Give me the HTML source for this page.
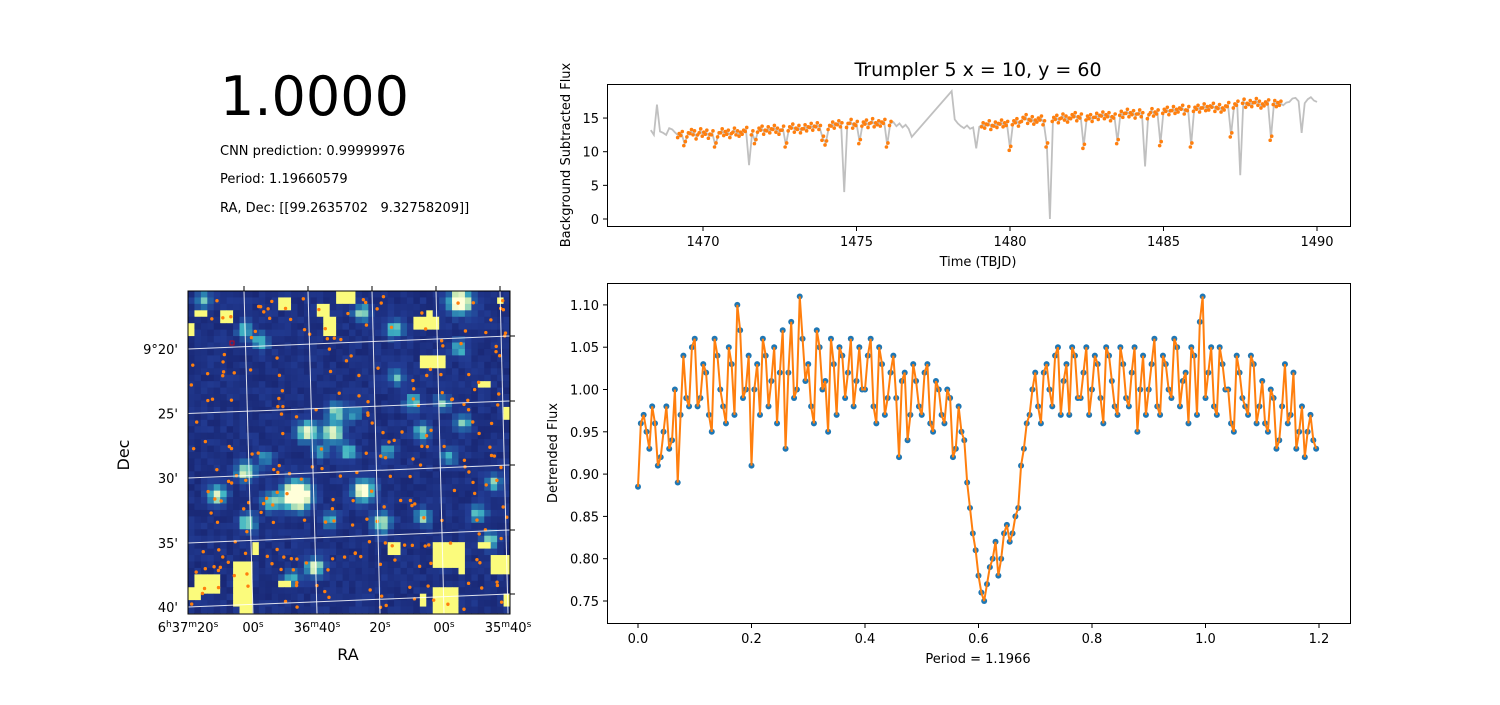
<!DOCTYPE html>
<html><head><meta charset="utf-8"><style>
body{margin:0;background:#fff}
svg text{font-family:"DejaVu Sans","Liberation Sans",sans-serif;fill:#000;white-space:pre}
</style></head><body>
<svg id="s" width="1500" height="700" xmlns="http://www.w3.org/2000/svg">
<text x="220" y="115" font-size="54">1.0000</text>
<text x="220" y="155" font-size="13">CNN prediction: 0.99999976</text>
<text x="220" y="183" font-size="13">Period: 1.19660579</text>
<text x="220" y="212" font-size="13">RA, Dec: [[99.2635702   9.32758209]]</text>
<text x="978" y="76" font-size="19" text-anchor="middle">Trumpler 5 x = 10, y = 60</text>
<g id="topPlot"></g>
<g id="botPlot"></g>
<g id="img"></g>
</svg>
<script>
const NS="http://www.w3.org/2000/svg";
function mk(p,t,a,txt){const e=document.createElementNS(NS,t);for(const k in a)e.setAttribute(k,a[k]);if(txt!==undefined)e.textContent=txt;p.appendChild(e);return e;}

// ---- light curve data ----
const lcStart=1468.3, lcStep=0.1;
const lcFlux=[13.2,12.5,17,13,12.8,12.5,13.5,13.3,12.8,12.4,
12.7,11.2,12.5,13.0,12.8,12.2,13.1,12.6,12.9,12.3,
12.8,11.0,12.5,13.1,12.7,12.9,12.4,13.2,12.8,12.6,
12.9,13.3,8.0,12.8,11.5,13.2,13.5,12.9,13.4,13.1,
13.6,13.2,12.9,13.5,11.0,13.4,13.8,13.2,13.6,13.1,
13.7,13.4,13.9,13.5,14.0,13.6,12.0,11.3,13.6,14.1,
13.8,14.3,14.0,4.0,13.9,14.5,13.8,14.2,11.5,14.1,
14.4,13.9,14.6,14.0,14.3,14.1,14.5,11.0,14.2,14.4,
13.8,14.2,13.6,14.0,13.4,12.2,null,null,null,null,
null,null,null,null,null,null,null,null,19.0,14.8,
14.2,13.8,13.5,13.9,13.4,13.6,10.5,13.7,14.0,13.8,
14.3,13.6,14.1,13.9,14.4,14.0,14.2,10.5,14.3,14.6,
14.1,14.8,15.2,14.5,14.9,14.4,14.7,15.0,14.3,11.0,
0.0,14.8,15.1,14.6,15.3,15.0,14.7,15.2,15.5,14.9,
15.3,10.8,15.0,15.2,14.8,15.4,15.1,15.6,15.2,15.5,
14.9,15.3,11.5,15.7,15.4,16.0,15.5,15.8,15.3,15.9,
15.5,7.8,15.2,16.1,15.6,15.9,11.2,16.0,16.3,15.8,
16.4,16.0,16.2,16.6,15.9,16.4,11.0,16.3,16.6,16.2,
16.8,16.4,16.5,16.9,16.3,16.7,16.2,16.5,17.0,12.5,
16.8,17.2,6.5,17.5,16.9,17.3,17.0,17.6,17.2,16.8,
17.1,17.4,12.0,17.3,17.0,17.2,16.9,17.3,17.4,17.9,
18.0,17.5,12.8,17.2,17.8,18.1,17.6,17.4];
const detrendWindows=[[1469.2,1476.1],[1479.1,1488.8]];
const topXTicks=[1470,1475,1480,1485,1490];
const topYTicks=[0,5,10,15];

// ---- folded data ----
const foldA=[0.885,0.97,0.93,0.96,0.92,0.98,0.94,0.89,1.04,0.98,
1.06,0.99,1.02,0.95,1.04,0.98,1.05,0.97,1.07,1.00,
0.91,1.03,1.06,0.98,1.05,1.02,0.93,1.08,1.00,1.06,
1.03,0.96,1.05,1.01,1.06,0.97,1.04,1.02,0.98,1.05,
1.00,1.06,0.96,1.03,0.99,1.04,0.92,1.02,0.97,1.01,
0.97,1.03,0.95,1.00,0.96,0.99,0.93,0.95,0.89,0.83,
0.78,0.75,0.79,0.82,0.80,0.84,0.83,0.86,0.93,0.97,
1.02,0.96,1.03,0.98,1.05,1.01,0.97,1.04,0.99,1.05,
1.00,1.03,0.96,1.04,0.98,1.05,0.99,1.02,0.95,1.04,
1.00,1.06,0.97,1.03,0.99,1.05,1.01,0.96,1.04,1.08,
0.99,1.05,0.97,1.03,1.00,0.95,1.02,0.98,1.04,0.96,
1.01,0.95,0.99,0.94,1.03,0.97,0.93,0.98,0.95,0.94];
const foldB=[0.96,0.95,0.98,0.91,0.95,0.93,1.00,0.97,0.99,1.05,
0.98,1.03,0.97,1.06,1.00,0.96,1.03,1.10,0.99,1.04,
1.00,0.97,1.04,1.01,0.96,1.07,1.02,0.99,1.11,1.01,
0.98,1.07,1.00,0.95,1.03,1.05,0.99,1.06,1.01,1.00,
1.04,0.98,1.05,0.97,1.02,0.99,1.01,0.94,1.03,0.98,
1.02,0.96,1.01,0.97,1.00,0.92,0.98,0.94,0.86,0.81,
0.76,0.77,0.80,0.78,0.83,0.82,0.85,0.91,0.96,1.00,
0.98,1.02,1.00,1.04,0.97,1.03,1.05,0.99,1.02,0.97,
1.04,0.99,1.05,1.01,0.97,1.03,0.98,1.05,1.00,0.97,
1.03,0.98,1.04,1.00,1.06,0.98,1.02,1.05,0.97,1.11,
1.02,0.98,1.05,1.00,0.96,1.04,0.99,0.97,1.03,0.98,
0.96,1.00,0.93,0.98,0.96,1.02,0.95,0.92,0.97,0.93];
const foldStep=0.01;
const botXTicks=[0,0.2,0.4,0.6,0.8,1.0,1.2];
const botYTicks=[0.75,0.80,0.85,0.90,0.95,1.00,1.05,1.10];

// ---- top plot ----
const tp=document.getElementById('topPlot');
const tx=v=>703+(v-1470)*30.7, ty=v=>219-v*6.73;
let pts=[];
lcFlux.forEach((f,i)=>{if(f!==null)pts.push([tx(lcStart+i*lcStep),ty(f)]);});
let ln=mk(tp,'polyline',{points:pts.map(p=>p.join(',')).join(' '),fill:'none',stroke:'#c0c0c0','stroke-width':1.8});


lcFlux.forEach((f,i)=>{const t=lcStart+i*lcStep;if(f===null||f<9)return;
 if(!detrendWindows.some(w=>t>=w[0]-1e-6&&t<=w[1]+1e-6))return;
 for(const d of [-0.025,0.025]){const c=mk(tp,'circle',{cx:tx(t+d),cy:ty(f+(d>0?0.3:-0.3)),r:1.8,fill:'#ff7f0e'});
 
 }
});
mk(tp,'rect',{x:607.5,y:84.5,width:743,height:142,fill:'none',stroke:'#000','stroke-width':1});
topXTicks.forEach(v=>{mk(tp,'line',{x1:tx(v),x2:tx(v),y1:227,y2:231,stroke:'#000'});
 const t=mk(tp,'text',{x:tx(v),y:246,'font-size':13,'text-anchor':'middle'},String(v));
 
 });
topYTicks.forEach(v=>{mk(tp,'line',{x1:603,x2:607,y1:ty(v),y2:ty(v),stroke:'#000'});
 const t=mk(tp,'text',{x:599,y:ty(v)+5,'font-size':13,'text-anchor':'end'},String(v));
 
 });
let t1=mk(tp,'text',{x:978,y:266,'font-size':13,'text-anchor':'middle'},'Time (TBJD)');

let t2=mk(tp,'text',{x:570,y:155,'font-size':13,'text-anchor':'middle',transform:'rotate(-90 570 155)'},'Background Subtracted Flux');


// ---- bottom plot ----
const bp=document.getElementById('botPlot');
const bx=v=>638+v*567.5, by=v=>601-(v-0.75)*846;
let merged=[];
foldA.forEach((v,i)=>merged.push([i*foldStep,v]));
foldB.forEach((v,i)=>merged.push([i*foldStep+foldStep/2,v]));
merged.sort((a,b)=>a[0]-b[0]);
merged.forEach(p=>{const c=mk(bp,'circle',{cx:bx(p[0]),cy:by(p[1]),r:3,fill:'#1f77b4'});
 
 });
let fl=mk(bp,'polyline',{points:merged.map(p=>bx(p[0])+','+by(p[1])).join(' '),fill:'none',stroke:'#ff7f0e','stroke-width':2});


mk(bp,'rect',{x:607.5,y:283.5,width:743,height:340,fill:'none',stroke:'#000'});
botXTicks.forEach(v=>{mk(bp,'line',{x1:bx(v),x2:bx(v),y1:624,y2:628,stroke:'#000'});
 const t=mk(bp,'text',{x:bx(v),y:643,'font-size':13,'text-anchor':'middle'},v.toFixed(1));
 
 });
botYTicks.forEach(v=>{mk(bp,'line',{x1:603,x2:607,y1:by(v),y2:by(v),stroke:'#000'});
 const t=mk(bp,'text',{x:599,y:by(v)+5,'font-size':13,'text-anchor':'end'},v.toFixed(2));
 
 });
let t3=mk(bp,'text',{x:978,y:663,'font-size':13,'text-anchor':'middle'},'Period = 1.1966');

let t4=mk(bp,'text',{x:557,y:453,'font-size':13,'text-anchor':'middle',transform:'rotate(-90 557 453)'},'Detrended Flux');


// ---- sky image ----
const img=document.getElementById('img');
const N=50,X0=188,Y0=291,CW=322/N;
const stars=[[16.9,31.7,3.2],[42.2,1.7,2.4],[18.5,21.9,1.8],[22.5,22,1.8],[23.1,18.8,1.4],[27.2,30.9,2],[4.5,31.7,1.6],[8.9,28.1,1.6],[30.1,36,1.6],[19.7,42.9,1.6],[36.3,21.9,1.3],[27,3.4,1.3],[32.1,6,1.3],[11.2,7.9,1.2],[8.9,6,1.1],[42.2,8.9,1.1],[35,17.2,1.2],[39.6,17.4,1.1],[13,32.8,1.4],[9.2,36,1.4],[47.4,29.7,1.2],[45,34.5,1.2],[36.5,35.2,1.2],[46.9,38.7,1.2],[40.4,25.8,1.1],[32.5,13.4,1.1],[2.3,1.4,1.1],[16.1,44.6,1.1],[22,35.6,1.1],[42.7,20.5,1.1],[25,25,1.2],[20.5,25,1.0],[12,26,1.0],[31,25,1.0],[26,19,1.0]];
const yellow=[[1,44,4,3],[0,46,2,2],[7,42,3,7],[10,39,1,2],[14,1,2,2],[20,2,2,2],[21,4,2,3],[23,0,3,2],[35,4,4,2],[37,3,1,2],[36,10,4,2],[45,14,2,1],[38,39,5,4],[38,46,4,4],[47,41,3,3],[49,18,1,2],[48,1,1,1],[5,3,2,2],[1,3,2,1],[31,39,2,2],[36,47,1,2],[49,47,1,2],[14,45,2,1],[8,49,2,1],[0,5,1,2],[45,39,2,1],[42,42,1,2]];
function h(i,j){let x=Math.sin(i*127.1+j*311.7)*43758.5453;return x-Math.floor(x);}
function col(v){const cs=[[23,35,110],[34,60,148],[36,110,170],[65,182,196],[199,233,180],[255,255,217]];
 v=Math.max(0,Math.min(0.999,v))*(cs.length-1);const k=Math.floor(v),f=v-k;const a=cs[k],b=cs[k+1];
 return 'rgb('+a.map((c,n)=>Math.round(c+(b[n]-c)*f)).join(',')+')';}
for(let j=0;j<N;j++)for(let i=0;i<N;i++){
 let v=0.04+h(i,j)*0.14;
 for(const s of stars){const d2=((i+0.5-s[0])**2+(j+0.5-s[1])**2);v+=s[2]*0.5*Math.exp(-d2/(1.3*s[2]));}
 let c=col(v);
 for(const y of yellow)if(i>=y[0]&&i<y[0]+y[2]&&j>=y[1]&&j<y[1]+y[3])c='#fbfb7c';
 mk(img,'rect',{x:X0+i*CW,y:Y0+j*CW,width:CW+0.4,height:CW+0.4,fill:c});
}
for(let k=0;k<260;k++){const u=h(k,7.3),w=h(3.1,k);
 const c=mk(img,'circle',{cx:X0+3+u*316,cy:Y0+3+w*316,r:1.7,fill:'#ff7f0e'});
 
 }
mk(img,'rect',{x:230,y:341,width:4,height:4,fill:'none',stroke:'#e00','stroke-width':0.8});
const hL=[349,413.5,478,543,607],hR=[336,401,465,530,594];
const vT=[244,308,372,436,500],vB=[253,317,380,444,508];
const cp=mk(img,'clipPath',{id:'cp'});mk(cp,'rect',{x:188,y:291,width:322,height:323});
const gg=mk(img,'g',{'clip-path':'url(#cp)'});
hL.forEach((y,k)=>mk(gg,'line',{x1:188,y1:y,x2:510,y2:hR[k],stroke:'#fff','stroke-opacity':0.85,'stroke-width':1}));
vT.forEach((x,k)=>mk(gg,'line',{x1:x,y1:291,x2:vB[k],y2:614,stroke:'#fff','stroke-opacity':0.85,'stroke-width':1}));
mk(img,'rect',{x:188,y:291,width:322,height:323,fill:'none',stroke:'#000'});
vT.forEach(x=>mk(img,'line',{x1:x,x2:x,y1:286,y2:291,stroke:'#000'}));
hR.forEach(y=>mk(img,'line',{x1:510,x2:515,y1:y,y2:y,stroke:'#000'}));
const decLabels=["9°20'","25'","30'","35'","40'"];
hL.forEach((y,k)=>{const t=mk(img,'text',{x:178,y:y+5,'font-size':13,'text-anchor':'end'},decLabels[k]);
 });
const raL=[[188,['6','h','37','m','20','s']],[253,['','','','','00','s']],[317,['','','36','m','40','s']],[380,['','','','','20','s']],[444,['','','','','00','s']],[508,['','','35','m','40','s']]];
raL.forEach(r=>{const t=mk(img,'text',{x:r[0],y:632,'font-size':13,'text-anchor':'middle'});
 
 const p=r[1];let up=false;for(let k=0;k<6;k+=2){if(!p[k])continue;mk(t,'tspan',{dy:up?5:0},p[k]);mk(t,'tspan',{'font-size':9,dy:-5},p[k+1]);up=true;}});
let ra=mk(img,'text',{x:348,y:660,'font-size':16,'text-anchor':'middle'},'RA');

let de=mk(img,'text',{x:129,y:455,'font-size':16,'text-anchor':'middle',transform:'rotate(-90 129 455)'},'Dec');

</script>
</body></html>
